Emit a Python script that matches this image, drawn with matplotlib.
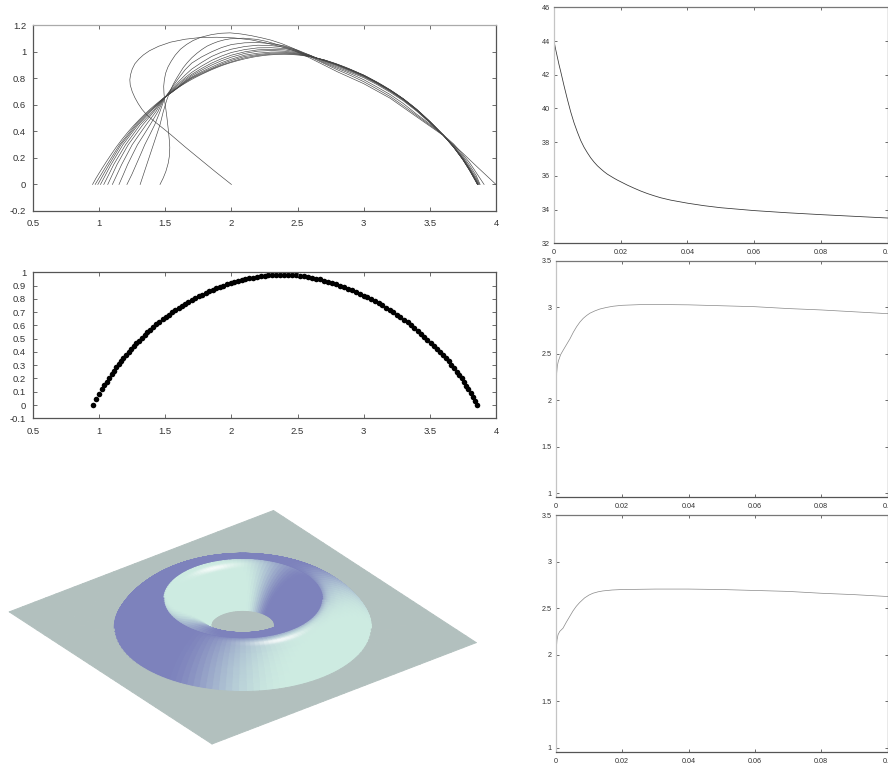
import numpy as np
import matplotlib
matplotlib.use('Agg')
import matplotlib.pyplot as plt
from matplotlib import colors as mcolors

plt.rcParams['font.family'] = ['Liberation Sans', 'DejaVu Sans']

# final profile, panel 2 dots and also the last curve of panel 1
profile_x = [0.950, 0.975, 1.000, 1.020, 1.040, 1.058, 1.076, 1.094, 1.112, 1.130,
             1.148, 1.166, 1.184, 1.203, 1.222, 1.241, 1.261, 1.281, 1.301, 1.322,
             1.343, 1.365, 1.387, 1.410, 1.433, 1.456, 1.479, 1.503, 1.527, 1.551,
             1.575, 1.600, 1.625, 1.650, 1.675, 1.700, 1.726, 1.752, 1.778, 1.804,
             1.830, 1.857, 1.884, 1.911, 1.938, 1.965, 1.993, 2.021, 2.049, 2.077,
             2.105, 2.134, 2.163, 2.192, 2.221, 2.250, 2.280, 2.310, 2.340, 2.370,
             2.400, 2.430, 2.460, 2.490, 2.520, 2.550, 2.580, 2.610, 2.640, 2.670,
             2.700, 2.730, 2.760, 2.790, 2.820, 2.850, 2.880, 2.910, 2.940, 2.970,
             3.000, 3.028, 3.056, 3.084, 3.112, 3.140, 3.168, 3.196, 3.224, 3.251,
             3.278, 3.305, 3.331, 3.357, 3.383, 3.408, 3.433, 3.458, 3.482, 3.506,
             3.530, 3.553, 3.576, 3.598, 3.620, 3.641, 3.662, 3.682, 3.702, 3.721,
             3.740, 3.758, 3.775, 3.792, 3.809, 3.825, 3.843, 3.860]
profile_y = [0.000, 0.045, 0.086, 0.118, 0.149, 0.177, 0.204, 0.231, 0.257, 0.283,
             0.307, 0.331, 0.354, 0.377, 0.400, 0.422, 0.444, 0.465, 0.486, 0.507,
             0.528, 0.549, 0.569, 0.589, 0.608, 0.627, 0.645, 0.663, 0.681, 0.698,
             0.715, 0.732, 0.748, 0.763, 0.778, 0.792, 0.806, 0.819, 0.832, 0.844,
             0.856, 0.868, 0.879, 0.890, 0.900, 0.909, 0.918, 0.926, 0.934, 0.941,
             0.948, 0.954, 0.960, 0.965, 0.969, 0.973, 0.976, 0.978, 0.980, 0.981,
             0.981, 0.980, 0.979, 0.977, 0.974, 0.970, 0.965, 0.960, 0.953, 0.946,
             0.938, 0.930, 0.921, 0.911, 0.900, 0.889, 0.877, 0.864, 0.851, 0.838,
             0.825, 0.811, 0.796, 0.781, 0.766, 0.750, 0.733, 0.716, 0.698, 0.680,
             0.661, 0.642, 0.622, 0.602, 0.581, 0.560, 0.538, 0.515, 0.492, 0.469,
             0.446, 0.423, 0.399, 0.376, 0.352, 0.328, 0.303, 0.278, 0.252, 0.226,
             0.200, 0.173, 0.146, 0.119, 0.091, 0.063, 0.032, 0.000]

# panel 1 curves, earliest first
c0_x = [2.00, 1.88, 1.766, 1.65, 1.54, 1.45, 1.40, 1.36, 1.325, 1.295, 1.27, 1.25, 1.235, 1.232, 1.238, 1.25, 1.27, 1.30, 1.335, 1.38, 1.45, 1.54, 1.65, 1.766, 1.89, 2.02, 2.15, 2.27, 2.37, 2.47, 2.53, 2.6, 2.7, 2.8, 2.9, 3.0, 3.1, 3.2, 3.3, 3.4, 3.5, 3.6, 3.75, 3.85, 4.0]
c0_y = [0.00, 0.095, 0.188, 0.283, 0.377, 0.45, 0.49, 0.525, 0.565, 0.61, 0.655, 0.70, 0.75, 0.79, 0.83, 0.87, 0.91, 0.945, 0.977, 1.008, 1.042, 1.073, 1.095, 1.108, 1.11, 1.105, 1.09, 1.065, 1.04, 1.01, 0.985, 0.95, 0.90, 0.85, 0.805, 0.76, 0.705, 0.65, 0.58, 0.51, 0.44, 0.37, 0.235, 0.14, 0.00]
c1_x = [1.46, 1.485, 1.505, 1.522, 1.532, 1.534, 1.53, 1.522, 1.513, 1.504, 1.495, 1.49, 1.488, 1.493, 1.503, 1.52, 1.545, 1.575, 1.615, 1.66, 1.71, 1.77, 1.85, 1.92, 1.99, 2.07, 2.15, 2.23, 2.3, 2.38, 2.47, 2.53, 2.6, 2.7, 2.8, 2.9, 3.0, 3.1, 3.2, 3.3, 3.4, 3.5, 3.6, 3.68, 3.75, 3.8, 3.85, 3.91]
c1_y = [0.00, 0.05, 0.10, 0.16, 0.22, 0.28, 0.34, 0.42, 0.50, 0.57, 0.63, 0.69, 0.74, 0.79, 0.84, 0.885, 0.93, 0.975, 1.02, 1.055, 1.085, 1.11, 1.13, 1.14, 1.143, 1.135, 1.122, 1.105, 1.088, 1.062, 1.025, 0.995, 0.96, 0.912, 0.865, 0.822, 0.775, 0.72, 0.663, 0.593, 0.52, 0.447, 0.375, 0.305, 0.225, 0.165, 0.09, 0.00]
c2_x = [1.31, 1.335, 1.36, 1.385, 1.41, 1.435, 1.46, 1.485, 1.50, 1.514, 1.535, 1.56, 1.585, 1.61, 1.635, 1.665, 1.70, 1.74, 1.78, 1.816, 1.86, 1.90, 1.945, 1.99, 2.09, 2.19, 2.26, 2.33, 2.4, 2.47, 2.53, 2.6, 2.7, 2.8, 2.9, 3.0, 3.1, 3.2, 3.3, 3.4, 3.5, 3.6, 3.68, 3.75, 3.8, 3.85, 3.88]
c2_y = [0.00, 0.075, 0.15, 0.225, 0.30, 0.375, 0.45, 0.55, 0.60, 0.645, 0.70, 0.755, 0.80, 0.84, 0.88, 0.917, 0.955, 0.99, 1.02, 1.043, 1.063, 1.078, 1.09, 1.098, 1.103, 1.094, 1.08, 1.06, 1.04, 1.018, 0.99, 0.965, 0.918, 0.876, 0.835, 0.79, 0.735, 0.678, 0.61, 0.53, 0.455, 0.373, 0.295, 0.213, 0.145, 0.068, 0.00]

left_y = [0.00, 0.075, 0.15, 0.225, 0.30, 0.375, 0.45, 0.55, 0.65]
upper_x = [1.55, 1.6, 1.65, 1.7, 1.775, 1.85, 1.925, 2.0, 2.1, 2.2, 2.3, 2.4, 2.5, 2.6,
           2.7, 2.8, 2.9, 3.0, 3.1, 3.2, 3.3, 3.4, 3.5, 3.6, 3.68, 3.75, 3.8, 3.85]

c3_x = [1.21, 1.247, 1.28, 1.313, 1.345, 1.383, 1.42, 1.46, 1.495] + upper_x + [3.875]
c3_y = left_y + [0.73, 0.80, 0.865, 0.915, 0.962, 1.0, 1.032, 1.055, 1.068, 1.07, 1.062, 1.045, 1.013, 0.972, 0.924, 0.885, 0.845, 0.805, 0.753, 0.695, 0.630, 0.553, 0.465, 0.372, 0.288, 0.203, 0.130, 0.052, 0.0]
c4_x = [1.15, 1.183, 1.215, 1.252, 1.29, 1.338, 1.385, 1.445, 1.492] + upper_x + [3.87]
c4_y = left_y + [0.72, 0.775, 0.825, 0.87, 0.92, 0.965, 0.997, 1.02, 1.04, 1.05, 1.047, 1.035, 1.008, 0.972, 0.93, 0.893, 0.853, 0.812, 0.76, 0.702, 0.636, 0.558, 0.468, 0.372, 0.285, 0.197, 0.121, 0.04, 0.0]
c5_x = [1.10, 1.135, 1.17, 1.21, 1.25, 1.302, 1.355, 1.43, 1.49] + upper_x + [3.866]
c5_y = left_y + [0.71, 0.76, 0.805, 0.845, 0.893, 0.935, 0.968, 0.995, 1.017, 1.03, 1.031, 1.025, 1.003, 0.97, 0.933, 0.898, 0.858, 0.816, 0.764, 0.706, 0.64, 0.561, 0.47, 0.372, 0.284, 0.193, 0.116, 0.032, 0.0]
c6_x = [1.065, 1.10, 1.135, 1.177, 1.22, 1.275, 1.33, 1.415, 1.49] + upper_x + [3.863]
c6_y = left_y + [0.705, 0.75, 0.793, 0.83, 0.875, 0.915, 0.948, 0.975, 1.0, 1.015, 1.019, 1.015, 0.998, 0.968, 0.935, 0.901, 0.861, 0.819, 0.766, 0.708, 0.642, 0.563, 0.472, 0.373, 0.283, 0.191, 0.113, 0.027, 0.0]
c7_x = [1.035, 1.073, 1.11, 1.155, 1.20, 1.255, 1.31, 1.405, 1.488] + upper_x + [3.862]
c7_y = left_y + [0.70, 0.74, 0.783, 0.82, 0.862, 0.90, 0.933, 0.96, 0.988, 1.005, 1.01, 1.005, 0.993, 0.966, 0.937, 0.903, 0.863, 0.821, 0.768, 0.71, 0.643, 0.564, 0.473, 0.373, 0.282, 0.189, 0.111, 0.024, 0.0]
c8_x = [1.01, 1.05, 1.09, 1.135, 1.18, 1.237, 1.295, 1.39, 1.487] + upper_x + [3.861]
c8_y = left_y + [0.697, 0.737, 0.777, 0.81, 0.85, 0.885, 0.918, 0.945, 0.975, 0.99, 0.998, 0.998, 0.988, 0.964, 0.938, 0.904, 0.865, 0.822, 0.769, 0.711, 0.644, 0.565, 0.474, 0.373, 0.282, 0.188, 0.109, 0.021, 0.0]
c9_x = [0.99, 1.032, 1.075, 1.12, 1.165, 1.225, 1.285, 1.383, 1.487] + upper_x + [3.861]
c9_y = left_y + [0.696, 0.734, 0.772, 0.805, 0.842, 0.875, 0.908, 0.935, 0.965, 0.98, 0.99, 0.992, 0.984, 0.963, 0.939, 0.905, 0.866, 0.823, 0.77, 0.712, 0.645, 0.566, 0.474, 0.374, 0.281, 0.187, 0.108, 0.02, 0.0]
c10_x = [0.97, 1.015, 1.06, 1.107, 1.155, 1.215, 1.275, 1.375, 1.486] + upper_x + [3.86]
c10_y = left_y + [0.695, 0.732, 0.768, 0.80, 0.835, 0.87, 0.90, 0.925, 0.955, 0.973, 0.983, 0.986, 0.981, 0.962, 0.94, 0.906, 0.867, 0.824, 0.771, 0.712, 0.645, 0.566, 0.475, 0.374, 0.281, 0.186, 0.107, 0.018, 0.0]

# right column curves
c_panel_x = [0, 0.0005, 0.001, 0.0015, 0.002, 0.003, 0.004, 0.005, 0.006, 0.007, 0.008, 0.009, 0.01, 0.011, 0.012, 0.013, 0.014, 0.015, 0.016, 0.017, 0.018, 0.019, 0.02, 0.022, 0.024, 0.026, 0.028, 0.03, 0.032, 0.035, 0.04, 0.045, 0.05, 0.06, 0.07, 0.08, 0.09, 0.1]
c_panel_y = [44.0, 43.5, 43.05, 42.6, 42.2, 41.35, 40.55, 39.8, 39.15, 38.6, 38.1, 37.7, 37.37, 37.07, 36.82, 36.6, 36.42, 36.25, 36.1, 35.98, 35.86, 35.75, 35.65, 35.45, 35.27, 35.1, 34.95, 34.82, 34.7, 34.56, 34.38, 34.23, 34.11, 33.94, 33.81, 33.7, 33.6, 33.5]
d_panel_x = [0, 0.0001, 0.0003, 0.0005, 0.0008, 0.0015, 0.0023, 0.0033, 0.0043, 0.0053, 0.0063, 0.0073, 0.0083, 0.0093, 0.0103, 0.0118, 0.0133, 0.0153, 0.0173, 0.02, 0.0274, 0.04, 0.05, 0.06, 0.07, 0.08, 0.09, 0.1]
d_panel_y = [1.46, 1.9, 2.29, 2.37, 2.42, 2.49, 2.54, 2.60, 2.66, 2.73, 2.79, 2.84, 2.88, 2.91, 2.935, 2.96, 2.98, 2.997, 3.01, 3.02, 3.03, 3.025, 3.015, 3.005, 2.985, 2.97, 2.95, 2.93]
e_panel_x = [0, 0.0001, 0.0002, 0.0004, 0.0007, 0.0012, 0.0022, 0.0032, 0.0042, 0.0052, 0.0062, 0.0072, 0.0087, 0.01, 0.0112, 0.0127, 0.0142, 0.017, 0.02, 0.03, 0.04, 0.05, 0.06, 0.07, 0.08, 0.09, 0.1]
e_panel_y = [1.39, 1.8, 2.07, 2.16, 2.215, 2.25, 2.285, 2.35, 2.41, 2.47, 2.52, 2.56, 2.61, 2.64, 2.66, 2.675, 2.685, 2.695, 2.70, 2.705, 2.705, 2.70, 2.69, 2.68, 2.66, 2.645, 2.625]

W, H = 888, 767
fig = plt.figure(figsize=(W / 100, H / 100), dpi=100)


def add_panel(left, right, top, bottom):
    # pixel box to figure fractions
    return fig.add_axes([left / W, 1 - bottom / H, (right - left) / W, (bottom - top) / H])


def style(ax, fontsize, ticklen, pad):
    ax.tick_params(direction='in', top=True, right=True, length=ticklen, width=0.6,
                   color='#555555', labelsize=fontsize, labelcolor='#333333', pad=pad)
    for s in ax.spines.values():
        s.set_linewidth(0.9)
        s.set_color('#555555')


# panel 1
ax1 = add_panel(33, 496, 25.3, 211)
all_curves = [(c0_x, c0_y), (c1_x, c1_y), (c2_x, c2_y), (c3_x, c3_y), (c4_x, c4_y), (c5_x, c5_y),
              (c6_x, c6_y), (c7_x, c7_y), (c8_x, c8_y), (c9_x, c9_y), (c10_x, c10_y),
              (profile_x, profile_y)]
for cx, cy in all_curves:
    ax1.plot(cx, cy, color='#444444', lw=0.45)
ax1.set_xlim(0.5, 4)
ax1.set_ylim(-0.2, 1.2)
ax1.set_xticks([0.5, 1, 1.5, 2, 2.5, 3, 3.5, 4])
ax1.set_xticklabels(['0.5', '1', '1.5', '2', '2.5', '3', '3.5', '4'])
ax1.set_yticks([-0.2, 0, 0.2, 0.4, 0.6, 0.8, 1, 1.2])
ax1.set_yticklabels(['-0.2', '0', '0.2', '0.4', '0.6', '0.8', '1', '1.2'])
style(ax1, 6.8, 3.2, 5)
ax1.tick_params(axis='x', pad=6)
ax1.spines['top'].set_color('#aaaaaa')

# panel 2, scatter keeps the dots off the pixel grid
ax2 = add_panel(33, 496, 272.3, 418.3)
ax2.scatter(profile_x, profile_y, s=16, color='black', linewidths=0)
ax2.set_xlim(0.5, 4)
ax2.set_ylim(-0.1, 1)
ax2.set_xticks([0.5, 1, 1.5, 2, 2.5, 3, 3.5, 4])
ax2.set_xticklabels(['0.5', '1', '1.5', '2', '2.5', '3', '3.5', '4'])
ax2.set_yticks([-0.1, 0, 0.1, 0.2, 0.3, 0.4, 0.5, 0.6, 0.7, 0.8, 0.9, 1])
ax2.set_yticklabels(['-0.1', '0', '0.1', '0.2', '0.3', '0.4', '0.5', '0.6', '0.7', '0.8', '0.9', '1'])
style(ax2, 6.8, 3.2, 5)
ax2.tick_params(axis='x', pad=6)

# right column
xt = [0, 0.02, 0.04, 0.06, 0.08, 0.1]
xtl = ['0', '0.02', '0.04', '0.06', '0.08', '0.1']

ax3 = add_panel(554, 887.7, 7.3, 243.3)
ax3.plot(c_panel_x, c_panel_y, color='#333333', lw=0.55)
ax3.set_xlim(0, 0.1)
ax3.set_ylim(32, 46)
ax3.set_xticks(xt)
ax3.set_xticklabels(xtl)
ax3.set_yticks([32, 34, 36, 38, 40, 42, 44, 46])
style(ax3, 5.2, 2.4, 3)

ax4 = add_panel(555.7, 887.7, 260.7, 497.3)
ax4.plot(d_panel_x, d_panel_y, color='#888888', lw=0.5)
ax4.set_xlim(0, 0.1)
ax4.set_ylim(0.954, 3.5)
ax4.set_xticks(xt)
ax4.set_xticklabels(xtl)
ax4.set_yticks([1, 1.5, 2, 2.5, 3, 3.5])
ax4.set_yticklabels(['1', '1.5', '2', '2.5', '3', '3.5'])
style(ax4, 5.2, 2.4, 3)

ax5 = add_panel(555.7, 887.7, 515, 752.3)
ax5.plot(e_panel_x, e_panel_y, color='#888888', lw=0.5)
ax5.set_xlim(0, 0.1)
ax5.set_ylim(0.953, 3.5)
ax5.set_xticks(xt)
ax5.set_xticklabels(xtl)
ax5.set_yticks([1, 1.5, 2, 2.5, 3, 3.5])
ax5.set_yticklabels(['1', '1.5', '2', '2.5', '3', '3.5'])
style(ax5, 5.2, 2.4, 3)

for a in (ax3, ax4, ax5):
    a.spines['left'].set_color('#c4c4c4')
    a.spines['top'].set_color('#777777')
    a.tick_params(axis='x', pad=4)

# surface of revolution made from the panel 2 profile, on a square plate
hole_r = [0.0, 0.5]
plate_steps = [0.0, 0.5, 1.0]
theta = np.radians(np.arange(0, 361, 3))
r_prof = np.array(profile_x)
z_prof = np.array(profile_y)
edge_r = 5 / np.maximum(np.abs(np.cos(theta)), np.abs(np.sin(theta)))

R = np.zeros((len(theta), len(hole_r) + len(r_prof) + len(plate_steps) - 1))
Z = np.zeros_like(R)
ring_start = len(hole_r)
ring_end = ring_start + len(r_prof)
R[:, :ring_start] = hole_r
R[:, ring_start:ring_end] = r_prof
Z[:, ring_start:ring_end] = z_prof
for k, f in enumerate(plate_steps[1:]):
    R[:, ring_end + k] = r_prof[-1] + f * (edge_r - r_prof[-1])
X = R * np.cos(theta)[:, None]
Y = R * np.sin(theta)[:, None]

# face colours from the face normal
dark = np.array(mcolors.to_rgb('#7d82bc'))
mint = np.array(mcolors.to_rgb('#cdebe1'))
plate = np.array(mcolors.to_rgb('#b2c0be'))
light_dir = np.array([0.950, 0.299])
spec_dir = np.array([0.973 * 0.24, -0.216 * 0.24, 0.971])

slope = np.gradient(z_prof, r_prof)
face_slope = 0.5 * (slope[:-1] + slope[1:])
tm = 0.5 * (theta[:-1] + theta[1:])
fc = np.ones((R.shape[0] - 1, R.shape[1] - 1, 4))
fc[:, :, :3] = plate
for i in range(len(tm)):
    for j in range(len(face_slope)):
        n = np.array([-face_slope[j] * np.cos(tm[i]), -face_slope[j] * np.sin(tm[i]), 1.0])
        n = n / np.linalg.norm(n)
        tilt = np.hypot(n[0], n[1])
        cos_d = (n[0] * light_dir[0] + n[1] * light_dir[1]) / max(tilt, 1e-6)
        # inner slope has a wider lit side than the outer one
        if face_slope[j] > 0:
            s0, s1 = -0.2, 0.45
        else:
            s0, s1 = -0.03, 0.8
        t = np.clip((cos_d * tilt ** 0.25 - s0) / (s1 - s0), 0, 1)
        t = t * t * (3 - 2 * t)
        col = dark + (mint - dark) * t
        sp = max(n @ spec_dir, 0) ** 350
        col = col + (1 - col) * 0.8 * sp
        fc[i, ring_start + j, :3] = col

ax6 = fig.add_axes([-14 / W, (140 - 257) / H, 500 / W, 500 / H], projection='3d', proj_type='ortho')
ax6.patch.set_alpha(0)
ax6.set_xlim(-5, 5)
ax6.set_ylim(-5, 5)
ax6.set_zlim(-5, 5)
ax6.set_box_aspect((1, 1, 1), zoom=1.12)
ax6.view_init(elev=30, azim=-37.5)
ax6.plot_surface(X, Y, Z, facecolors=fc, rstride=1, cstride=1, shade=False, linewidth=0.7, antialiased=True)
ax6.set_axis_off()

fig.savefig('out.png', dpi=100)
